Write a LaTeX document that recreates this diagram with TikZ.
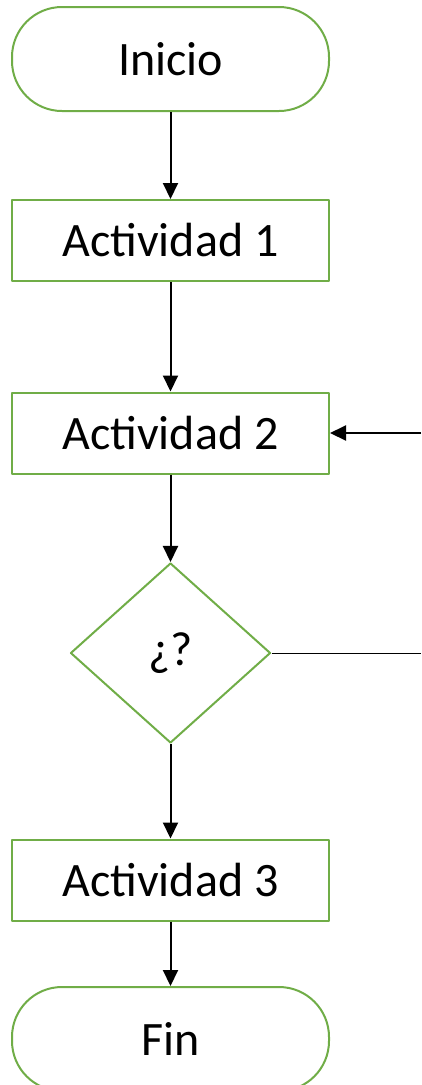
\documentclass[tikz,border=0pt]{standalone}
\usepackage{fontspec}
\setmainfont{Carlito}
\usetikzlibrary{shapes.geometric,arrows.meta}
\definecolor{verde}{RGB}{112,173,71}
\begin{document}
\begin{tikzpicture}[x=1pt,y=-1pt,>={Triangle[length=16pt,width=15pt]}, font=\fontsize{48}{58}\selectfont, line join=round,
	caja/.style={draw=verde,line width=2pt,fill=white,minimum width=317pt,minimum height=81pt,inner sep=0pt},
	terminal/.style={caja,minimum height=104pt,rounded corners=50pt},
	rombo/.style={draw=verde,line width=2pt,fill=white,diamond,minimum width=200pt,minimum height=180pt,inner sep=0pt}]
	\useasboundingbox (0,0) rectangle (421,1085);
	\def\xc{170.5} % Centro
	\node[terminal] (ini) at (\xc,59) {Inicio};
	\node[caja] (act1) at (\xc,240.5) {Actividad 1};
	\node[caja] (act2) at (\xc,433) {Actividad 2};
	\node[rombo] (preg) at (\xc,653) {¿?};
	\node[caja] (act3) at (\xc,880) {Actividad 3};
	\node[terminal] (fin) at (\xc,1039) {Fin};
	\coordinate (r2) at (421,433);
	\coordinate (rp) at (421,653);
	\foreach \a/\b in {ini/act1,act1/act2,act2/preg,preg/act3,act3/fin}
	\draw[->,line width=2pt] (\a)--(\b);
	\draw[->,line width=2pt] (r2)--(act2.east);
	\draw[line width=1pt] (preg.east)--(rp);
\end{tikzpicture}
\end{document}
